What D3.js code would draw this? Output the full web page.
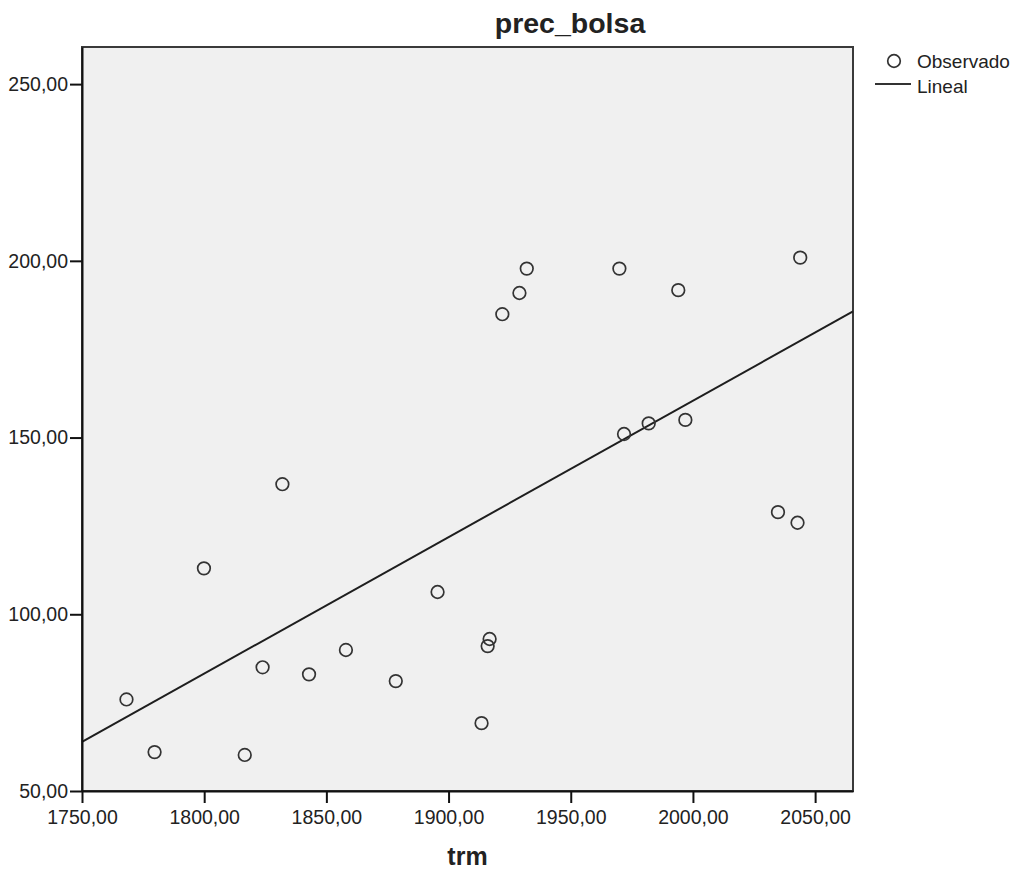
<!DOCTYPE html>
<html lang="es">
<head>
<meta charset="utf-8">
<title>prec_bolsa</title>
<script src="https://cdn.jsdelivr.net/npm/d3@7"></script>
<style>
  body { margin: 0; background: #fff; }
  text { font-family: "Liberation Sans", Arial, sans-serif; fill: #222; }
</style>
</head>
<body>
<div id="chart"></div>
<script>
// valores (trm vs prec_bolsa)
var trm = [1768.2, 1779.7, 1799.9, 1816.6, 1823.9, 1832.0, 1842.9, 1858.0, 1878.4, 1895.5, 1913.5, 1916.0,
           1916.8, 1922.0, 1929.0, 1932.0, 1969.9, 1971.8, 1981.9, 1994.0, 1996.9, 2034.8, 2042.8, 2043.9];
var precBolsa = [75.9, 61.0, 113.0, 60.2, 85.0, 136.8, 83.0, 89.9, 81.1, 106.3, 69.2, 91.0,
                 93.0, 184.9, 190.9, 197.8, 197.8, 151.0, 154.0, 191.7, 155.0, 128.9, 125.9, 200.9];
var xTicks = [1750, 1800, 1850, 1900, 1950, 2000, 2050];
var yTicks = [50, 100, 150, 200, 250];
var legendItems = ["Observado", "Lineal"];

var width = 1020, height = 873;
var plot = {left: 82, top: 47, right: 853, bottom: 791};

var svg = d3.select("#chart").append("svg")
    .attr("width", width)
    .attr("height", height);

var x = d3.scaleLinear().domain([1750, 2065.5]).range([plot.left, plot.right]);
var y = d3.scaleLinear().domain([50, 260.5]).range([plot.bottom, plot.top]);

var fmt = function(d) { return d3.format(".2f")(d).replace(".", ","); };

// fondo del area
svg.append("rect")
    .attr("x", plot.left).attr("y", plot.top)
    .attr("width", plot.right - plot.left).attr("height", plot.bottom - plot.top)
    .attr("fill", "#f0f0f0")
    .attr("stroke", "#3a3a3a")
    .attr("stroke-width", 2);

// ajuste lineal (minimos cuadrados)
var mx = d3.mean(trm), my = d3.mean(precBolsa);
var sxy = d3.sum(trm, function(v, i) { return (v - mx) * (precBolsa[i] - my); });
var sxx = d3.sum(trm, function(v) { return (v - mx) * (v - mx); });
var b = sxy / sxx, a = my - b * mx;
var xd = x.domain();

svg.append("line")
    .attr("x1", x(xd[0])).attr("y1", y(a + b * xd[0]))
    .attr("x2", x(xd[1])).attr("y2", y(a + b * xd[1]))
    .attr("stroke", "#1e1e1e")
    .attr("stroke-width", 2);

// puntos observados
svg.append("g")
    .selectAll("circle")
    .data(trm)
    .enter()
    .append("circle")
    .attr("cx", function(d) { return x(d); })
    .attr("cy", function(d, i) { return y(precBolsa[i]); })
    .attr("r", 6.3)
    .attr("fill", "none")
    .attr("stroke", "#333")
    .attr("stroke-width", 1.7);

// ejes
var xAxis = svg.append("g")
    .attr("transform", "translate(0," + plot.bottom + ")")
    .call(d3.axisBottom(x).tickValues(xTicks).tickFormat(fmt).tickSize(12).tickPadding(7).tickSizeOuter(0));
var yAxis = svg.append("g")
    .attr("transform", "translate(" + plot.left + ",0)")
    .call(d3.axisLeft(y).tickValues(yTicks).tickFormat(fmt).tickSize(12).tickPadding(2).tickSizeOuter(0));

[xAxis, yAxis].forEach(function(g) {
    g.select(".domain").attr("stroke", "#111").attr("stroke-width", 2);
    g.selectAll(".tick line").attr("stroke", "#111").attr("stroke-width", 2);
    g.selectAll(".tick text").attr("font-size", 19.5).attr("fill", "#222")
        .attr("font-family", "Liberation Sans, Arial, sans-serif");
});

// titulo y etiqueta
svg.append("text")
    .attr("x", 570).attr("y", 33)
    .attr("text-anchor", "middle")
    .attr("font-size", 28.5).attr("font-weight", "bold")
    .text("prec_bolsa");

svg.append("text")
    .attr("x", (plot.left + plot.right) / 2).attr("y", 865)
    .attr("text-anchor", "middle")
    .attr("font-size", 25).attr("font-weight", "bold")
    .text("trm");

// leyenda
var legend = svg.append("g");
legend.append("circle")
    .attr("cx", 894).attr("cy", 61).attr("r", 6.3)
    .attr("fill", "none").attr("stroke", "#333").attr("stroke-width", 1.7);
legend.append("line")
    .attr("x1", 875).attr("x2", 911).attr("y1", 84).attr("y2", 84)
    .attr("stroke", "#333").attr("stroke-width", 2);
legend.selectAll("text")
    .data(legendItems)
    .enter()
    .append("text")
    .attr("x", 917)
    .attr("y", function(d, i) { return 68 + i * 24.5; })
    .attr("font-size", 19)
    .text(function(d) { return d; });
</script>
</body>
</html>
